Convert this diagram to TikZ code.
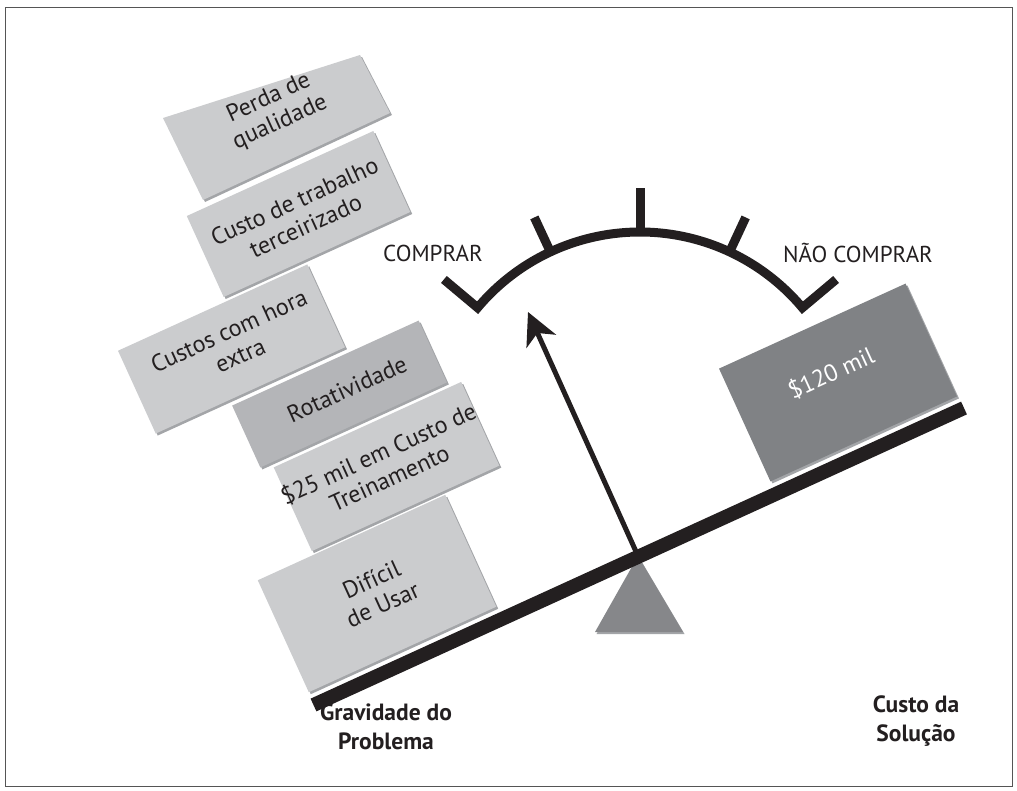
\documentclass[tikz,border=0pt]{standalone}
\usepackage{fontspec}
\setmainfont{PT Sans}
\usetikzlibrary{arrows.meta,calc}
\definecolor{ink}{HTML}{231F20}
\definecolor{boxlight}{HTML}{CBCCCE}
\definecolor{boxmid}{HTML}{B4B5B8}
\definecolor{boxdark}{HTML}{808285}
\definecolor{boxshadow}{HTML}{A3A5A8}
\definecolor{pivotgray}{HTML}{86878A}
\definecolor{framegray}{HTML}{555555}
\begin{document}
\begin{tikzpicture}[x=1pt,y=1pt,
  card/.style={rotate=24.5, inner sep=0pt, draw=none},
  cardtext/.style={rotate=24.5, inner sep=0pt, align=center, text=ink, font=\fontsize{24}{27}\selectfont},
  gauge/.style={line width=9pt, draw=ink},
  gaugelabel/.style={text=ink, font=\fontsize{23}{27}\selectfont},
  boldlabel/.style={text=ink, align=center, font=\bfseries\fontsize{23.5}{29}\selectfont}
]
\useasboundingbox (0,0) rectangle (1017,-790);
\draw[framegray, line width=1pt] (5,-7) rectangle (1012,-786);

% ---------- left stack of cards ----------
% Perda de qualidade (slightly skewed card)
\fill[boxshadow] (165,-120) -- (362,-57) -- (392,-115) -- (205,-202) -- cycle;
\fill[boxlight] (163,-118) -- (360,-55) -- (390,-113) -- (203,-200) -- cycle;
\node[cardtext] (perdaT) at (274.5,-110.5) {Perda de\\qualidade};
% Custo de trabalho terceirizado
\node[card, fill=boxshadow, minimum width=205pt, minimum height=89pt] (custoS) at (300.5,-216) {};
\node[card, fill=boxlight, minimum width=205pt, minimum height=89pt] (custo) at (298.5,-214) {};
\node[cardtext] (custoT) at (300,-213.5) {Custo de trabalho\\terceirizado};
% Custos com hora extra
\node[card, fill=boxshadow, minimum width=208pt, minimum height=91pt] (horaS) at (233.5,-351) {};
\node[card, fill=boxlight, minimum width=208pt, minimum height=91pt] (hora) at (231.5,-349) {};
\node[cardtext] (horaT) at (234.5,-343) {Custos com hora\\extra};
% Rotatividade
\node[card, fill=boxshadow, minimum width=205pt, minimum height=68pt] (rotS) at (341.5,-396) {};
\node[card, fill=boxmid, minimum width=205pt, minimum height=68pt] (rot) at (339.5,-394) {};
\node[cardtext] (rotT) at (347,-389) {Rotatividade};
% $25 mil
\node[card, fill=boxshadow, minimum width=206pt, minimum height=92pt] (treinoS) at (388.5,-468.5) {};
\node[card, fill=boxlight, minimum width=206pt, minimum height=92pt] (treino) at (386.5,-466.5) {};
\node[cardtext] (treinoT) at (383.5,-465) {\$25 mil em Custo de\\Treinamento};
% Dificil de usar
\node[card, fill=boxshadow, minimum width=206pt, minimum height=123pt] (dificilS) at (379,-595.5) {};
\node[card, fill=boxlight, minimum width=206pt, minimum height=123pt] (dificil) at (377,-593.5) {};
\node[cardtext] (dificilT) at (377,-592) {Difícil\\de Usar};

% ---------- right card ----------
\node[card, fill=boxshadow, minimum width=205pt, minimum height=124pt] (precoS) at (840,-384.5) {};
\node[card, fill=boxdark, minimum width=205pt, minimum height=124pt] (preco) at (838,-382.5) {};
\node[cardtext, text=white] (precoT) at (831,-373) {\$120 mil};

% ---------- gauge ----------
\coordinate (C) at (640,-444);
\draw[gauge, line join=miter, line cap=butt]
  ($(C)+(140:256)$) -- ($(C)+(140:212)$) arc[start angle=140, end angle=40, radius=212] -- ($(C)+(40:256)$);
\draw[gauge, line cap=butt] ($(C)+(115:210)$) -- ($(C)+(115:250)$);
\draw[gauge, line cap=butt] ($(C)+(90:210)$) -- ($(C)+(90:256)$);
\draw[gauge, line cap=butt] ($(C)+(65:210)$) -- ($(C)+(65:250)$);
\node[gaugelabel] (buy) at (433,-253) {COMPRAR};
\node[gaugelabel] (nobuy) at (858,-253) {NÃO COMPRAR};

% ---------- pivot, needle and beam ----------
\coordinate (apex) at (638,-556);
\fill[boxshadow] (639.5,-558) -- (684.5,-634) -- (596.5,-634) -- cycle;
\fill[pivotgray] (apex) -- (683,-632) -- (595,-632) -- cycle;
\coordinate (tip) at (528,-312);
\draw[ink, line width=5pt, -{Stealth[length=32pt, width=32pt, inset=9pt]}] (apex) -- (tip);
\coordinate (barL) at (313.5,-705);
\coordinate (barR) at (964,-408);
\draw[ink, line width=14pt, line cap=butt] (barL) -- (barR);

% ---------- bottom labels ----------
\node[boldlabel] (grav) at (386,-727) {Gravidade do\\Problema};
\node[boldlabel] (sol) at (916,-721) {Custo da\\Solução};
\end{tikzpicture}
\end{document}
